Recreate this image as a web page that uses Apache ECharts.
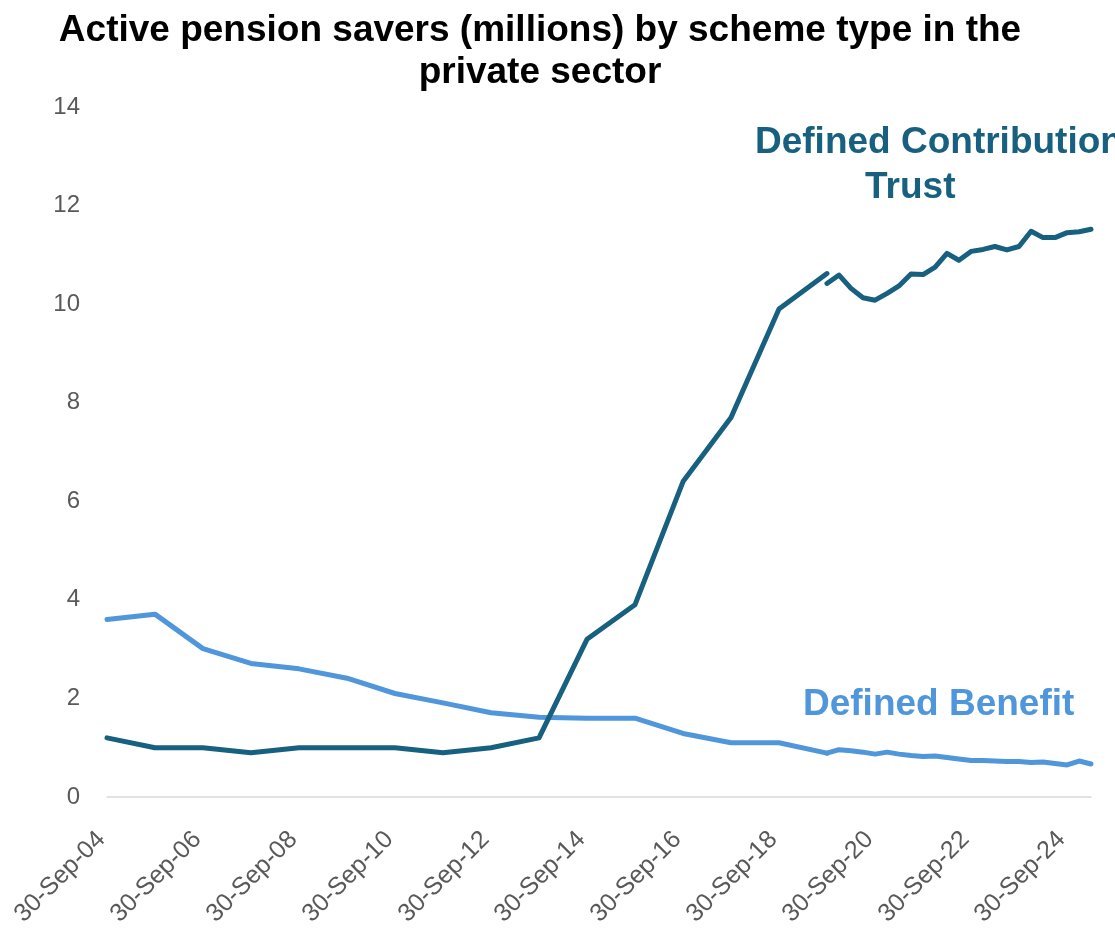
<!DOCTYPE html>
<html>
<head>
<meta charset="utf-8">
<script src="https://cdn.jsdelivr.net/npm/echarts@6/dist/echarts.min.js"></script>
<style>
  html, body { margin: 0; padding: 0; background: #ffffff; }
  #chart { width: 1115px; height: 930px; }
</style>
</head>
<body>
<div id="chart"></div>
<script>
// Annual snapshots (30 September each year), millions of active savers
const annualDates = [
  '2004-09-30', '2005-09-30', '2006-09-30', '2007-09-30', '2008-09-30',
  '2009-09-30', '2010-09-30', '2011-09-30', '2012-09-30', '2013-09-30',
  '2014-09-30', '2015-09-30', '2016-09-30', '2017-09-30', '2018-09-30',
  '2019-09-30'
];
const dcAnnual = [1.2, 1.0, 1.0, 0.9, 1.0, 1.0, 1.0, 0.9, 1.0, 1.2, 3.2, 3.9, 6.4, 7.7, 9.9, 10.62];
const dbAnnual = [3.6, 3.71, 3.01, 2.71, 2.6, 2.41, 2.1, 1.91, 1.71, 1.62, 1.6, 1.6, 1.29, 1.1, 1.1, 0.89];

// Quarterly snapshots from September 2019 onwards
const quarterDates = [
  '2019-09-30', '2019-12-31', '2020-03-31', '2020-06-30', '2020-09-30',
  '2020-12-31', '2021-03-31', '2021-06-30', '2021-09-30', '2021-12-31',
  '2022-03-31', '2022-06-30', '2022-09-30', '2022-12-31', '2023-03-31',
  '2023-06-30', '2023-09-30', '2023-12-31', '2024-03-31', '2024-06-30',
  '2024-09-30', '2024-12-31', '2025-03-31'
];
const dcQuarterly = [10.42, 10.59, 10.32, 10.13, 10.08, 10.22, 10.37, 10.61, 10.6, 10.75,
  11.03, 10.89, 11.07, 11.11, 11.17, 11.1, 11.17, 11.48, 11.35, 11.35, 11.45, 11.47, 11.52];
const dbQuarterly = [0.89, 0.96, 0.94, 0.91, 0.87, 0.91, 0.87, 0.84, 0.82, 0.83,
  0.8, 0.77, 0.74, 0.74, 0.73, 0.72, 0.72, 0.7, 0.71, 0.68, 0.65, 0.73, 0.67];

// Axis ticks: y every 2 million, x every two years from the first snapshot
const yTicks = [0, 2, 4, 6, 8, 10, 12, 14];
const xTickEveryYears = 2;

const DC_COLOR = '#17607f';
const DB_COLOR = '#4f96db';
const FONT = '"Liberation Sans", Arial, sans-serif';

const baseTime = Date.parse(annualDates[0]);
const YEAR_MS = 365.25 * 864e5;
const toYears = d => (Date.parse(d) - baseTime) / YEAR_MS;
const pairs = (dates, vals) => dates.map((d, i) => [toYears(d), vals[i]]);
const xMax = toYears(quarterDates[quarterDates.length - 1]);
const firstYear = new Date(baseTime).getUTCFullYear();

const lineSeries = (name, dates, vals, color, z) => ({
  name: name,
  type: 'line',
  data: pairs(dates, vals),
  symbol: 'none',
  clip: false,
  lineStyle: { color: color, width: 5, cap: 'round', join: 'round' },
  itemStyle: { color: color },
  z: z
});

const chart = echarts.init(document.getElementById('chart'), null, { renderer: 'canvas' });
chart.setOption({
  animation: false,
  backgroundColor: '#ffffff',
  title: {
    text: 'Active pension savers (millions) by scheme type in the\nprivate sector',
    left: 540,
    top: 10,
    padding: 0,
    textAlign: 'center',
    textStyle: { fontFamily: FONT, fontSize: 37, fontWeight: 'bold', color: '#000000', lineHeight: 42 }
  },
  grid: { left: 107, right: 24, top: 107, bottom: 133, containLabel: false },
  xAxis: {
    type: 'value',
    min: 0,
    max: xMax,
    interval: xTickEveryYears,
    axisLine: { show: true, lineStyle: { color: '#d9d9d9', width: 1.5 } },
    axisTick: { show: false },
    splitLine: { show: false },
    axisLabel: {
      rotate: 45,
      margin: 33,
      padding: [0, 8, 0, 0],
      fontFamily: FONT,
      fontSize: 25,
      color: '#595959',
      showMaxLabel: false,
      formatter: v => {
        if (Math.abs(v - Math.round(v)) > 1e-6) return '';
        const yy = String((firstYear + Math.round(v)) % 100).padStart(2, '0');
        return '30-Sep-' + yy;
      }
    }
  },
  yAxis: {
    type: 'value',
    min: yTicks[0],
    max: yTicks[yTicks.length - 1],
    interval: yTicks[1] - yTicks[0],
    axisLine: { show: false },
    axisTick: { show: false },
    splitLine: { show: false },
    axisLabel: { margin: 27, fontFamily: FONT, fontSize: 24, color: '#595959' }
  },
  series: [
    lineSeries('Defined Benefit (annual)', annualDates, dbAnnual, DB_COLOR, 2),
    lineSeries('Defined Benefit (quarterly)', quarterDates, dbQuarterly, DB_COLOR, 2),
    lineSeries('Defined Contribution Trust (annual)', annualDates, dcAnnual, DC_COLOR, 3),
    lineSeries('Defined Contribution Trust (quarterly)', quarterDates, dcQuarterly, DC_COLOR, 3)
  ],
  graphic: [
    {
      type: 'text', left: 755, top: 124, silent: true,
      style: { text: 'Defined Contribution', fill: DC_COLOR, font: 'bold 37px ' + FONT }
    },
    {
      type: 'text', left: 865, top: 169, silent: true,
      style: { text: 'Trust', fill: DC_COLOR, font: 'bold 37px ' + FONT }
    },
    {
      type: 'text', left: 803, top: 686, silent: true,
      style: { text: 'Defined Benefit', fill: DB_COLOR, font: 'bold 37px ' + FONT }
    }
  ]
});
</script>
</body>
</html>
